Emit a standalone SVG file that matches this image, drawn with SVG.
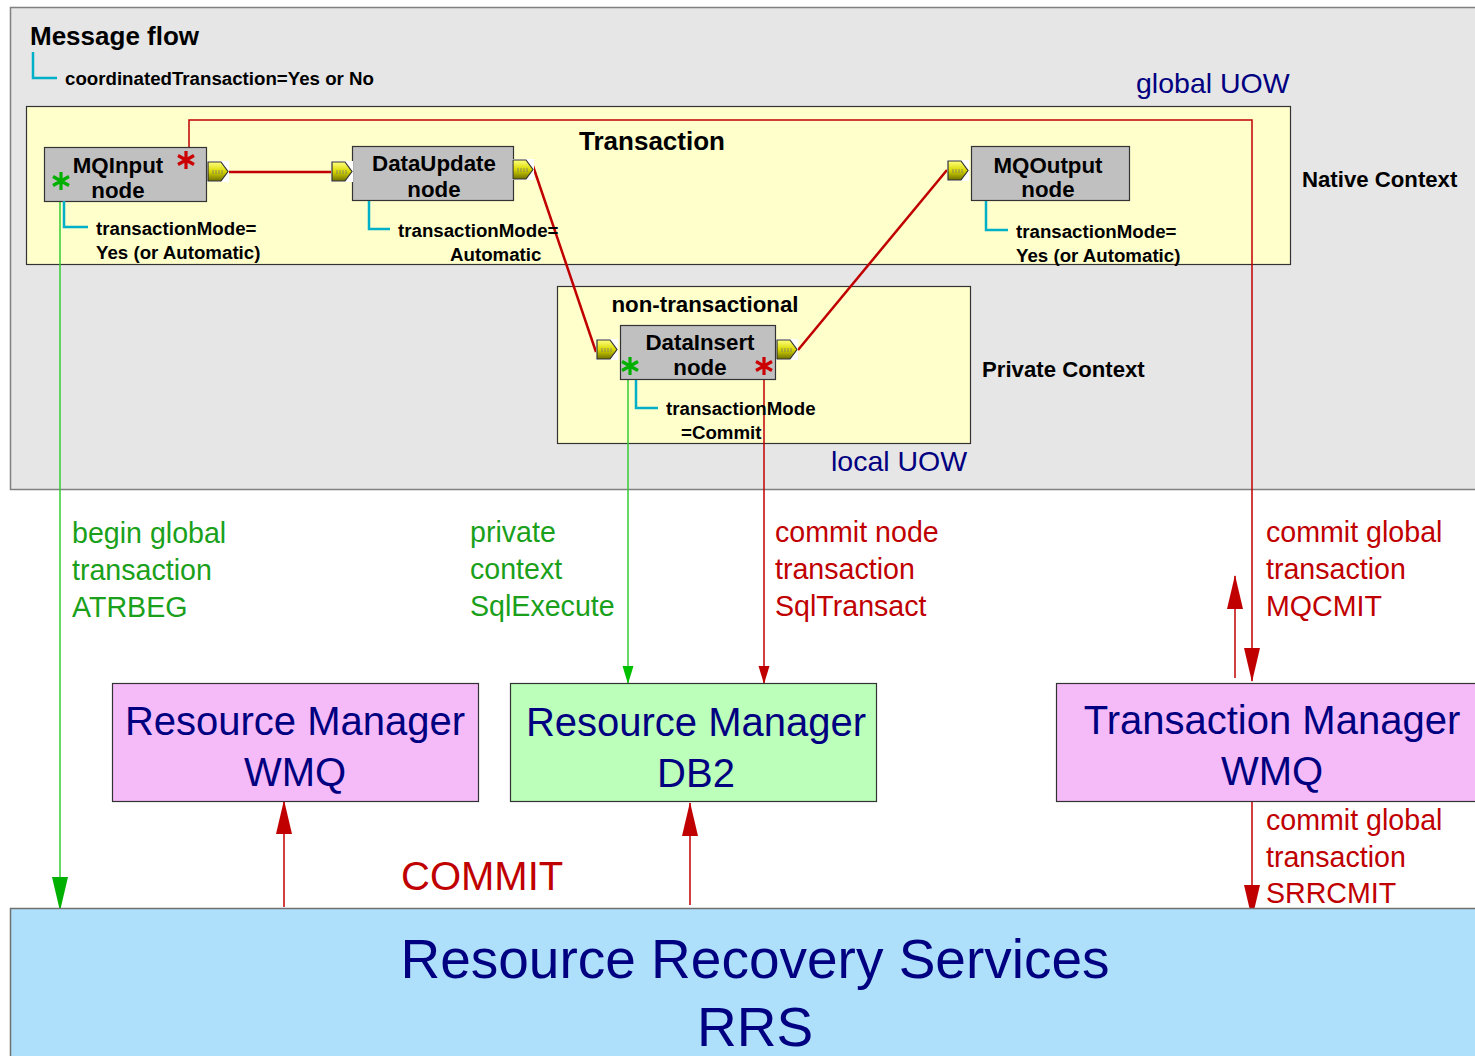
<svg xmlns="http://www.w3.org/2000/svg" width="1475" height="1056" viewBox="0 0 1475 1056">
<style>
.b{font-family:"Liberation Sans",Arial,sans-serif;font-weight:bold;fill:#000}
.n{font-family:"Liberation Sans",Arial,sans-serif;fill:#000080}
.g{font-family:"Liberation Sans",Arial,sans-serif;fill:#1aa01a;font-size:28.6px}
.r{font-family:"Liberation Sans",Arial,sans-serif;fill:#c00000;font-size:28.6px}
.s{font-size:18.7px}
.node{fill:#c0c0c0;stroke:#333;stroke-width:1.2}
.cy{fill:none;stroke:#00b0c8;stroke-width:2.5}
.conn{fill:none;stroke:#c00000;stroke-width:2.5}
.rl{fill:none;stroke:#c00000;stroke-width:1.5}
.gl{fill:none;stroke:#33cc33;stroke-width:1.5}
</style>
<defs>
<linearGradient id="yg" x1="0" y1="0" x2="0" y2="1">
<stop offset="0" stop-color="#ffff80"/><stop offset="0.5" stop-color="#d8d800"/><stop offset="1" stop-color="#707000"/>
</linearGradient>
<g id="term">
<rect x="0" y="0" width="22" height="21" fill="#fff"/>
<polygon points="1,1 14,1 21,10.5 14,20 1,20" fill="url(#yg)" stroke="#333" stroke-width="1.2"/>
<path d="M6,9v4M9,9v4M12,9v4M15,9v4" stroke="#777" stroke-width="0.8"/>
</g>
<path id="ast" d="M0,-9V9M-8,-4.5L8,4.5M-8,4.5L8,-4.5" stroke-width="3.2" fill="none"/>
<marker id="bR" markerUnits="userSpaceOnUse" markerWidth="34" markerHeight="18" viewBox="0 0 34 18" refX="33" refY="9" orient="auto">
<polygon points="0,1 34,9 0,17" fill="#c00000"/>
</marker>
<marker id="bG" markerUnits="userSpaceOnUse" markerWidth="34" markerHeight="18" viewBox="0 0 34 18" refX="33" refY="9" orient="auto">
<polygon points="0,1 34,9 0,17" fill="#00b000"/>
</marker>
<marker id="sR" markerUnits="userSpaceOnUse" markerWidth="18" markerHeight="12" viewBox="0 0 18 12" refX="17" refY="6" orient="auto">
<polygon points="0,0.5 18,6 0,11.5" fill="#c00000"/>
</marker>
<marker id="sG" markerUnits="userSpaceOnUse" markerWidth="18" markerHeight="12" viewBox="0 0 18 12" refX="17" refY="6" orient="auto">
<polygon points="0,0.5 18,6 0,11.5" fill="#00c000"/>
</marker>
</defs>
<rect width="1475" height="1056" fill="#fff"/>
<g id="message-flow">
<rect x="10.5" y="7.5" width="1480" height="482" fill="#e6e6e6" stroke="#808080" stroke-width="1.5"/>
<text class="b" x="30" y="45" font-size="26">Message flow</text>
<path class="cy" d="M33,52V78H57"/>
<text class="b" x="65" y="85" font-size="18.7">coordinatedTransaction=Yes or No</text>
<text class="n" x="1136" y="93" font-size="28.5">global UOW</text>
<text class="n" x="831" y="471" font-size="28.5">local UOW</text>
<text class="b" x="1302" y="187" font-size="22.2">Native Context</text>
<text class="b" x="982" y="377" font-size="22.2">Private Context</text>
</g>
<g id="transaction">
<rect x="26.5" y="106.5" width="1264" height="158" fill="#ffffcc" stroke="#333" stroke-width="1.2"/>
<text class="b" x="652" y="150" font-size="26" text-anchor="middle">Transaction</text>
</g>
<g id="non-transactional">
<rect x="557.5" y="286.5" width="413" height="157" fill="#ffffcc" stroke="#333" stroke-width="1.2"/>
<text class="b" x="705" y="312" font-size="22.3" text-anchor="middle">non-transactional</text>
</g>
<g id="connectors">
<path class="conn" d="M228,172H331"/>
<path class="conn" d="M533,166L596,352"/>
<path class="conn" d="M798,350L947,170"/>
<path class="rl" d="M189,157V120H1252V681" marker-end="url(#bR)"/>
<path class="gl" d="M60,182V910" marker-end="url(#bG)"/>
<path class="gl" d="M628,368V683" marker-end="url(#sG)"/>
<path class="rl" d="M764,368V683" marker-end="url(#sR)"/>
<path class="rl" d="M1235,678V576" marker-end="url(#bR)"/>
<path class="rl" d="M1252,802V918" marker-end="url(#bR)"/>
<path class="rl" d="M284,907V801" marker-end="url(#bR)"/>
<path class="rl" d="M690,905V803" marker-end="url(#bR)"/>
</g>
<g id="mqinput">
<rect class="node" x="44.5" y="147.5" width="162" height="54"/>
<text class="b" x="118" y="173" font-size="22.3" text-anchor="middle">MQInput</text>
<text class="b" x="118" y="198" font-size="22.3" text-anchor="middle">node</text>
<use href="#term" x="207" y="161"/>
<use href="#ast" x="186" y="160" stroke="#cc0000"/>
<use href="#ast" x="61" y="181" stroke="#00b000"/>
<path class="cy" d="M64,201V227H88"/>
<text class="b s" x="96" y="235">transactionMode=</text>
<text class="b s" x="96" y="259">Yes (or Automatic)</text>
</g>
<g id="dataupdate">
<rect class="node" x="352.5" y="146.5" width="161" height="54"/>
<text class="b" x="434" y="171" font-size="22.3" text-anchor="middle">DataUpdate</text>
<text class="b" x="434" y="197" font-size="22.3" text-anchor="middle">node</text>
<use href="#term" x="331" y="161"/>
<use href="#term" x="512" y="159"/>
<path class="cy" d="M369,201V229H390"/>
<text class="b s" x="398" y="237">transactionMode=</text>
<text class="b s" x="450" y="261">Automatic</text>
</g>
<g id="mqoutput">
<rect class="node" x="971.5" y="146.5" width="158" height="54"/>
<text class="b" x="1048" y="173" font-size="22.3" text-anchor="middle">MQOutput</text>
<text class="b" x="1048" y="197" font-size="22.3" text-anchor="middle">node</text>
<use href="#term" x="947" y="160"/>
<path class="cy" d="M986,201V230H1008"/>
<text class="b s" x="1016" y="238">transactionMode=</text>
<text class="b s" x="1016" y="262">Yes (or Automatic)</text>
</g>
<g id="datainsert">
<rect class="node" x="620.5" y="325.5" width="155" height="54"/>
<text class="b" x="700" y="350" font-size="22.3" text-anchor="middle">DataInsert</text>
<text class="b" x="700" y="375" font-size="22.3" text-anchor="middle">node</text>
<use href="#term" x="596" y="339"/>
<use href="#term" x="776" y="339"/>
<use href="#ast" x="630" y="366" stroke="#00b000"/>
<use href="#ast" x="764" y="366" stroke="#cc0000"/>
<path class="cy" d="M636,380V408H658"/>
<text class="b s" x="666" y="415">transactionMode</text>
<text class="b s" x="681" y="439">=Commit</text>
</g>
<g id="labels">
<text class="g" x="72" y="543">begin global</text>
<text class="g" x="72" y="580">transaction</text>
<text class="g" x="72" y="617">ATRBEG</text>
<text class="g" x="470" y="542">private</text>
<text class="g" x="470" y="579">context</text>
<text class="g" x="470" y="616">SqlExecute</text>
<text class="r" x="775" y="542">commit node</text>
<text class="r" x="775" y="579">transaction</text>
<text class="r" x="775" y="616">SqlTransact</text>
<text class="r" x="1266" y="542">commit global</text>
<text class="r" x="1266" y="579">transaction</text>
<text class="r" x="1266" y="616">MQCMIT</text>
<text class="r" x="1266" y="830">commit global</text>
<text class="r" x="1266" y="867">transaction</text>
<text class="r" x="1266" y="903">SRRCMIT</text>
<text class="r" x="401" y="890" style="font-size:40px">COMMIT</text>
</g>
<g id="rm-wmq">
<rect x="112.5" y="683.5" width="366" height="118" fill="#f4bbf8" stroke="#333" stroke-width="1.2"/>
<text class="n" x="295" y="735" font-size="40" text-anchor="middle">Resource Manager</text>
<text class="n" x="295" y="786" font-size="40" text-anchor="middle">WMQ</text>
</g>
<g id="rm-db2">
<rect x="510.5" y="683.5" width="366" height="118" fill="#bbffbb" stroke="#333" stroke-width="1.2"/>
<text class="n" x="696" y="736" font-size="40" text-anchor="middle">Resource Manager</text>
<text class="n" x="696" y="787" font-size="40" text-anchor="middle">DB2</text>
</g>
<g id="tm-wmq">
<rect x="1056.5" y="683.5" width="430" height="118" fill="#f4bbf8" stroke="#333" stroke-width="1.2"/>
<text class="n" x="1272" y="734" font-size="40" text-anchor="middle">Transaction Manager</text>
<text class="n" x="1272" y="785" font-size="40" text-anchor="middle">WMQ</text>
</g>
<g id="rrs">
<rect x="10.5" y="908.5" width="1480" height="160" fill="#aee0fc" stroke="#707070" stroke-width="1.5"/>
<text class="n" x="755" y="978" font-size="55" text-anchor="middle">Resource Recovery Services</text>
<text class="n" x="755" y="1046" font-size="55" text-anchor="middle">RRS</text>
</g>
</svg>
